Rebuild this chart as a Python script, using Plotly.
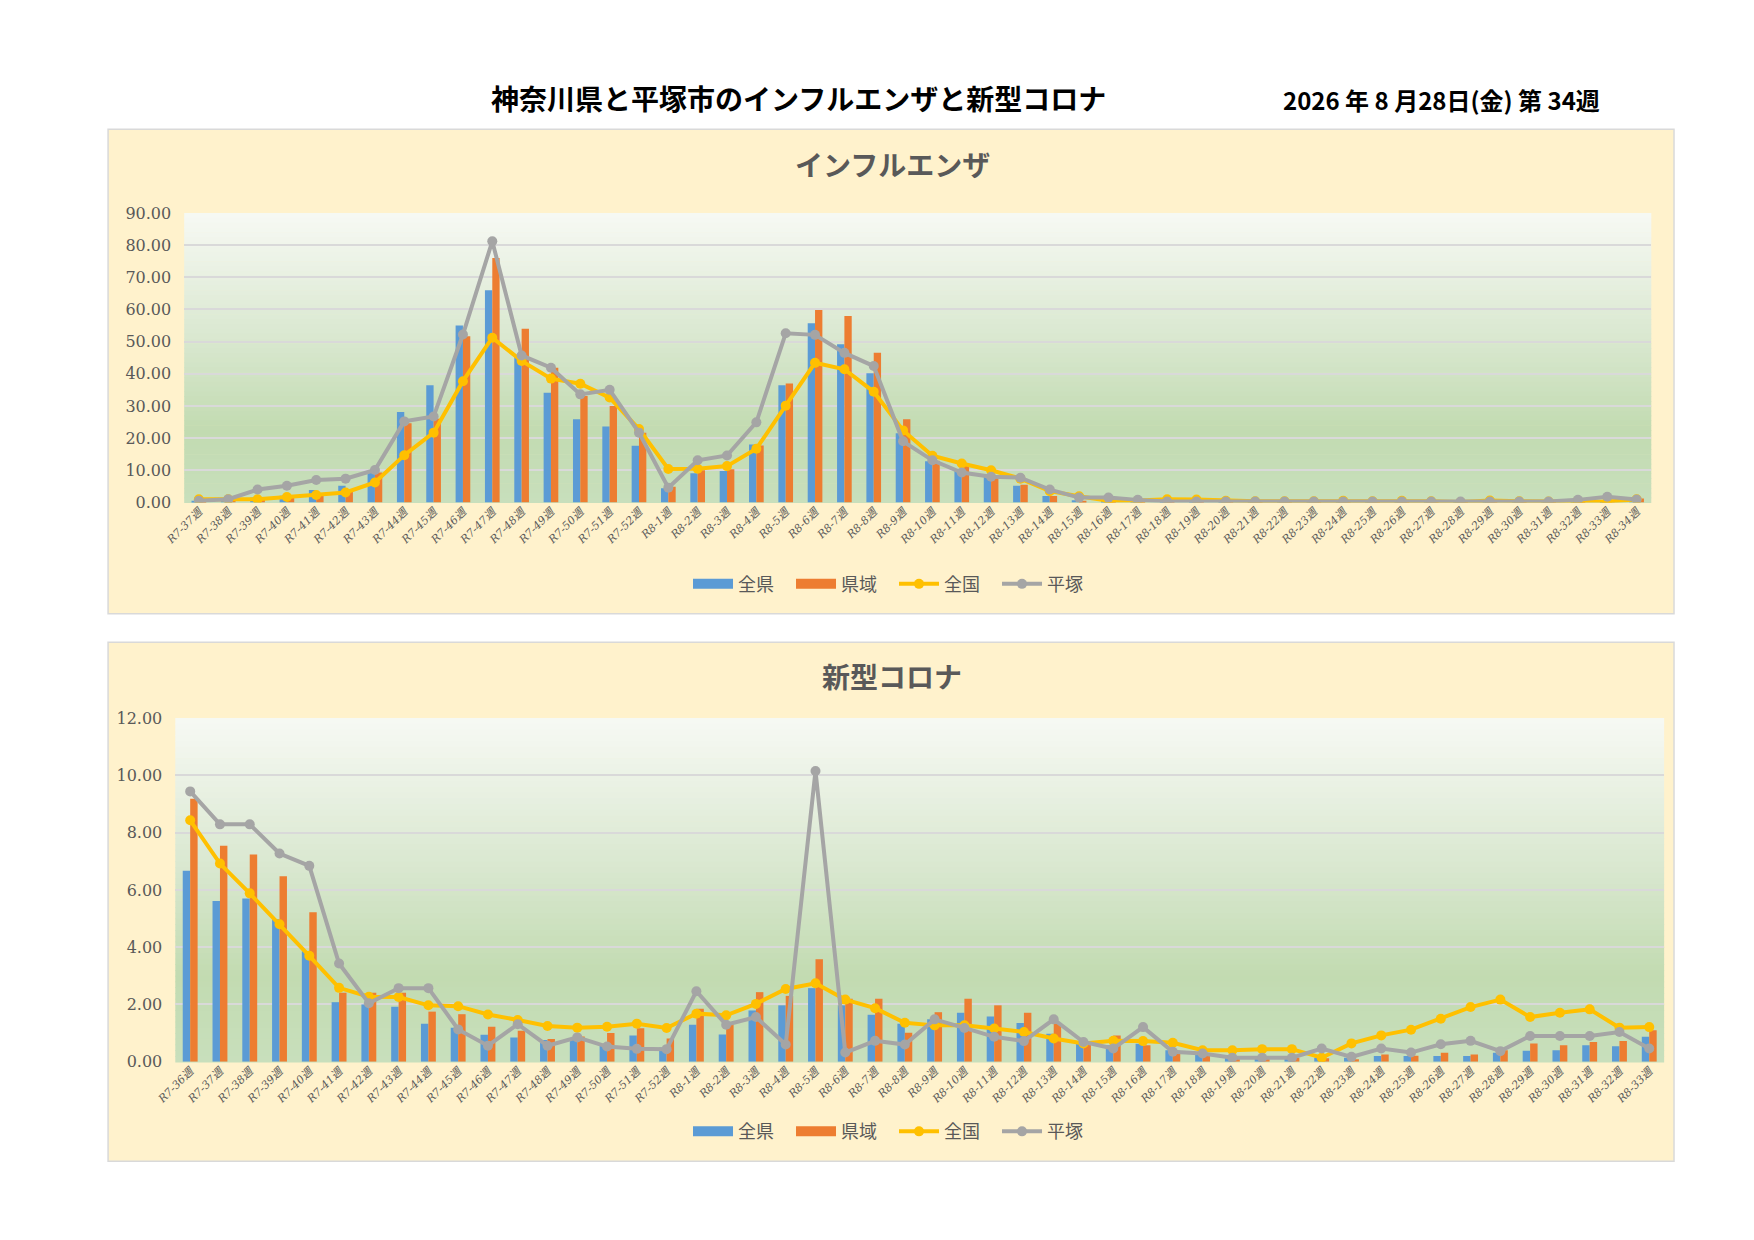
import plotly.graph_objects as go

W, H = 1754, 1240

# ---------------- data ----------------
flu_weeks = ["R7-37週", "R7-38週", "R7-39週", "R7-40週", "R7-41週", "R7-42週", "R7-43週", "R7-44週",
             "R7-45週", "R7-46週", "R7-47週", "R7-48週", "R7-49週", "R7-50週", "R7-51週", "R7-52週",
             "R8-1週", "R8-2週", "R8-3週", "R8-4週", "R8-5週", "R8-6週", "R8-7週", "R8-8週", "R8-9週",
             "R8-10週", "R8-11週", "R8-12週", "R8-13週", "R8-14週", "R8-15週", "R8-16週", "R8-17週",
             "R8-18週", "R8-19週", "R8-20週", "R8-21週", "R8-22週", "R8-23週", "R8-24週", "R8-25週",
             "R8-26週", "R8-27週", "R8-28週", "R8-29週", "R8-30週", "R8-31週", "R8-32週", "R8-33週",
             "R8-34週"]
flu_zenken = [0.5, 0.8, 1.5, 2.1, 3.9, 5.2, 9.3, 28.1, 36.4, 55.0, 66.0, 45.5, 34.1, 25.9, 23.6, 17.6,
              4.4, 9.1, 9.8, 18.0, 36.4, 55.7, 49.2, 40.2, 21.5, 12.8, 10.2, 8.2, 5.2, 2.0, 0.7, 0.4,
              0.3, 0.2, 0.2, 0.1, 0.1, 0.1, 0.1, 0.1, 0.1, 0.1, 0.1, 0.1, 0.1, 0.1, 0.1, 0.2, 0.6, 1.3]
flu_kenki = [0.5, 0.7, 1.2, 1.8, 2.6, 3.9, 9.3, 24.6, 26.0, 51.7, 76.0, 54.0, 41.9, 33.1, 30.0, 21.7,
             4.9, 10.0, 10.3, 17.7, 37.0, 59.8, 58.0, 46.5, 25.9, 13.0, 11.5, 8.5, 5.5, 2.0, 0.5, 0.3,
             0.2, 0.2, 0.1, 0.1, 0.1, 0.1, 0.1, 0.1, 0.1, 0.1, 0.1, 0.1, 0.1, 0.1, 0.1, 0.3, 0.8, 1.2]
flu_zenkoku = [1.0, 1.0, 1.0, 1.7, 2.3, 3.1, 6.2, 14.7, 21.7, 37.7, 51.2, 44.0, 38.5, 36.9, 32.6, 22.8,
               10.4, 10.5, 11.3, 16.7, 30.1, 43.4, 41.4, 34.4, 22.4, 14.5, 12.1, 10.0, 7.4, 3.5, 1.9, 0.5,
               0.6, 1.0, 0.9, 0.5, 0.4, 0.4, 0.4, 0.5, 0.4, 0.5, 0.4, 0.1, 0.6, 0.4, 0.3, 0.5, 0.2, 1.0]
flu_hiratsuka = [0.5, 1.0, 4.0, 5.2, 7.0, 7.4, 10.1, 25.2, 26.7, 52.2, 81.2, 45.7, 41.9, 33.6, 35.0, 21.7,
                 4.6, 13.1, 14.6, 24.9, 52.6, 52.1, 46.5, 42.4, 19.0, 13.1, 9.3, 8.0, 7.7, 4.0, 1.5, 1.5,
                 0.8, 0.3, 0.3, 0.3, 0.3, 0.3, 0.3, 0.3, 0.3, 0.3, 0.3, 0.3, 0.3, 0.3, 0.3, 0.8, 1.8, 0.9]

cov_weeks = ["R7-36週", "R7-37週", "R7-38週", "R7-39週", "R7-40週", "R7-41週", "R7-42週", "R7-43週",
             "R7-44週", "R7-45週", "R7-46週", "R7-47週", "R7-48週", "R7-49週", "R7-50週", "R7-51週",
             "R7-52週", "R8-1週", "R8-2週", "R8-3週", "R8-4週", "R8-5週", "R8-6週", "R8-7週", "R8-8週",
             "R8-9週", "R8-10週", "R8-11週", "R8-12週", "R8-13週", "R8-14週", "R8-15週", "R8-16週",
             "R8-17週", "R8-18週", "R8-19週", "R8-20週", "R8-21週", "R8-22週", "R8-23週", "R8-24週",
             "R8-25週", "R8-26週", "R8-27週", "R8-28週", "R8-29週", "R8-30週", "R8-31週", "R8-32週",
             "R8-33週"]
cov_zenken = [6.67, 5.61, 5.70, 4.98, 3.86, 2.08, 2.00, 1.92, 1.33, 1.19, 0.94, 0.85, 0.76, 0.79, 0.61,
              0.92, 0.50, 1.29, 0.95, 1.79, 1.97, 2.57, 1.97, 1.64, 1.33, 1.48, 1.71, 1.58, 1.35, 0.98,
              0.64, 0.58, 0.63, 0.40, 0.29, 0.23, 0.17, 0.14, 0.14, 0.14, 0.20, 0.20, 0.20, 0.20, 0.31,
              0.38, 0.40, 0.58, 0.54, 0.87]
cov_kenki = [9.18, 7.54, 7.24, 6.48, 5.22, 2.41, 2.41, 2.41, 1.75, 1.66, 1.22, 1.08, 0.79, 0.88, 1.00,
             1.17, 0.81, 1.85, 1.33, 2.43, 2.30, 3.58, 2.20, 2.20, 1.01, 1.73, 2.20, 1.97, 1.71, 1.33,
             0.69, 0.92, 0.58, 0.29, 0.23, 0.14, 0.14, 0.14, 0.12, 0.09, 0.25, 0.21, 0.31, 0.25, 0.40,
             0.64, 0.58, 0.69, 0.72, 1.10]
cov_zenkoku = [8.43, 6.92, 5.88, 4.80, 3.70, 2.58, 2.27, 2.26, 1.97, 1.94, 1.65, 1.46, 1.25, 1.19, 1.22,
               1.33, 1.18, 1.68, 1.62, 2.02, 2.54, 2.74, 2.17, 1.87, 1.36, 1.27, 1.27, 1.16, 1.04, 0.81,
               0.64, 0.73, 0.72, 0.66, 0.40, 0.40, 0.44, 0.44, 0.14, 0.64, 0.92, 1.12, 1.50, 1.91, 2.17,
               1.56, 1.71, 1.83, 1.19, 1.21]
cov_hiratsuka = [9.44, 8.29, 8.29, 7.27, 6.84, 3.43, 2.04, 2.57, 2.57, 1.13, 0.56, 1.31, 0.56, 0.85, 0.53,
                 0.45, 0.44, 2.46, 1.29, 1.56, 0.60, 10.15, 0.32, 0.73, 0.60, 1.48, 1.18, 0.87, 0.72, 1.48,
                 0.69, 0.46, 1.21, 0.35, 0.29, 0.14, 0.14, 0.14, 0.46, 0.17, 0.46, 0.32, 0.61, 0.73, 0.37,
                 0.90, 0.90, 0.90, 1.04, 0.46]

series_names = ["全県", "県域", "全国", "平塚"]
main_title = "神奈川県と平塚市のインフルエンザと新型コロナ"
date_text = "2026 年 8 月28日(金) 第 34週"
flu_title = "インフルエンザ"
cov_title = "新型コロナ"

# ---------------- style ----------------
BLUE, ORANGE, YELLOW, GRAY = "#5B9BD5", "#ED7D31", "#FFC000", "#A5A5A5"
TXT = "#595959"
JP = "Noto Sans CJK JP"
SERIF = "DejaVu Serif, Noto Sans CJK JP"
OX, OY = 8, 8   # page (body margin) offset compensation (px)


def fx(px):
    return (px - OX) / W


def fy(py):
    return 1 - (py - OY) / H


fig = go.Figure()


def add_series(weeks, s1, s2, s3, s4, xa, ya, leg):
    fig.add_trace(go.Bar(x=weeks, y=s1, name=series_names[0], marker=dict(color=BLUE, line_width=0),
                         xaxis=xa, yaxis=ya, legend=leg, showlegend=False))
    fig.add_trace(go.Bar(x=weeks, y=s2, name=series_names[1], marker=dict(color=ORANGE, line_width=0),
                         xaxis=xa, yaxis=ya, legend=leg, showlegend=False))
    fig.add_trace(go.Scatter(x=weeks, y=s3, name=series_names[2], mode="lines+markers",
                             line=dict(color=YELLOW, width=4), marker=dict(color=YELLOW, size=10),
                             xaxis=xa, yaxis=ya, legend=leg, showlegend=False))
    fig.add_trace(go.Scatter(x=weeks, y=s4, name=series_names[3], mode="lines+markers",
                             line=dict(color=GRAY, width=4), marker=dict(color=GRAY, size=10),
                             xaxis=xa, yaxis=ya, legend=leg, showlegend=False))
    # legend entries (wide bar patches like the original)
    for name, col, isbar in [(series_names[0], BLUE, True), (series_names[1], ORANGE, True),
                             (series_names[2], YELLOW, False), (series_names[3], GRAY, False)]:
        if isbar:
            fig.add_trace(go.Scatter(x=[None], y=[None], name=name, mode="lines",
                                     line=dict(color=col, width=11), xaxis=xa, yaxis=ya, legend=leg))
        else:
            fig.add_trace(go.Scatter(x=[None], y=[None], name=name, mode="lines+markers",
                                     line=dict(color=col, width=4), marker=dict(color=col, size=10),
                                     xaxis=xa, yaxis=ya, legend=leg))


add_series(flu_weeks, flu_zenken, flu_kenki, flu_zenkoku, flu_hiratsuka, "x", "y", "legend")
add_series(cov_weeks, cov_zenken, cov_kenki, cov_zenkoku, cov_hiratsuka, "x2", "y2", "legend2")

# plot areas (pixel boxes)
top_box = (166, 1650, 207, 501)
bot_box = (157, 1663, 720, 1069)

xcommon = dict(type="category", tickangle=-45, showgrid=False, zeroline=False, showline=False,
               ticks="", tickfont=dict(family=SERIF, size=11, color=TXT, style="italic"))
ycommon = dict(showgrid=True, gridcolor="#D9D9D9", gridwidth=1.5, zeroline=False, showline=False,
               ticks="", tickformat=".2f", tickfont=dict(family=SERIF, size=16, color=TXT),
               ticklabelstandoff=12)

legend_common = dict(orientation="h", xanchor="center", yanchor="middle",
                     font=dict(family=JP, size=18, color=TXT), bgcolor="rgba(0,0,0,0)",
                     itemwidth=40, traceorder="normal", entrywidth=48, entrywidthmode="pixels")

fig.update_layout(
    width=W, height=H,
    margin=dict(l=0, r=0, t=0, b=0),
    paper_bgcolor="white", plot_bgcolor="rgba(0,0,0,0)",
    barmode="group", bargap=0.5, bargroupgap=0,
    showlegend=True,
    xaxis=dict(domain=[fx(top_box[0]), fx(top_box[1])], anchor="y", range=[-0.5, len(flu_weeks) - 0.5],
               **xcommon),
    yaxis=dict(domain=[fy(top_box[3]), fy(top_box[2])], anchor="x", range=[0, 90], dtick=10, **ycommon),
    xaxis2=dict(domain=[fx(bot_box[0]), fx(bot_box[1])], anchor="y2", range=[-0.5, len(cov_weeks) - 0.5],
                **xcommon),
    yaxis2=dict(domain=[fy(bot_box[3]), fy(bot_box[2])], anchor="x2", range=[0, 12], dtick=2, **ycommon),
    legend=dict(x=fx(884), y=fy(584), **legend_common),
    legend2=dict(x=fx(884), y=fy(1140), **legend_common),
)

shapes = []
# panel backgrounds
for (y0, y1) in [(122, 614), (643, 1170)]:
    shapes.append(dict(type="rect", xref="paper", yref="paper", x0=fx(89), x1=fx(1673), y0=fy(y1), y1=fy(y0),
                       fillcolor="#FFF2CC", line=dict(color="#D9D9D9", width=1.5), layer="below"))

# gradient plot backgrounds
stops = [(0.0, (247, 249, 244)), (0.45, (216, 231, 206)), (0.75, (194, 219, 177)), (1.0, (200, 223, 188))]


def grad(t):
    for (t0, c0), (t1, c1) in zip(stops[:-1], stops[1:]):
        if t0 <= t <= t1:
            u = (t - t0) / (t1 - t0)
            return "rgb(%d,%d,%d)" % tuple(round(a + (b - a) * u) for a, b in zip(c0, c1))
    return "rgb(%d,%d,%d)" % stops[-1][1]


NB = 60
for xr, yr in [("x domain", "y domain"), ("x2 domain", "y2 domain")]:
    for k in range(NB):
        top = 1 - k / NB
        bot = 1 - (k + 1) / NB
        shapes.append(dict(type="rect", xref=xr, yref=yr, x0=0, x1=1, y0=bot - 0.002, y1=top,
                           fillcolor=grad((k + 0.5) / NB), line=dict(width=0), layer="below"))
fig.update_layout(shapes=shapes)

ann_common = dict(xref="paper", yref="paper", showarrow=False, xanchor="center", yanchor="middle")
annotations = [
    dict(text="<b>" + main_title + "</b>", x=fx(787), y=fy(90),
         font=dict(family=JP, size=28, color="black"), **ann_common),
    dict(text="<b>" + date_text + "</b>", x=fx(1438), y=fy(92),
         font=dict(family=JP, size=24, color="black"), **ann_common),
    dict(text="<b>" + flu_title + "</b>", x=fx(882), y=fy(157),
         font=dict(family=JP, size=28, color=TXT), **ann_common),
    dict(text="<b>" + cov_title + "</b>", x=fx(882), y=fy(677),
         font=dict(family=JP, size=28, color=TXT), **ann_common),
]
fig.update_layout(annotations=annotations)

fig.write_html("out.html")
